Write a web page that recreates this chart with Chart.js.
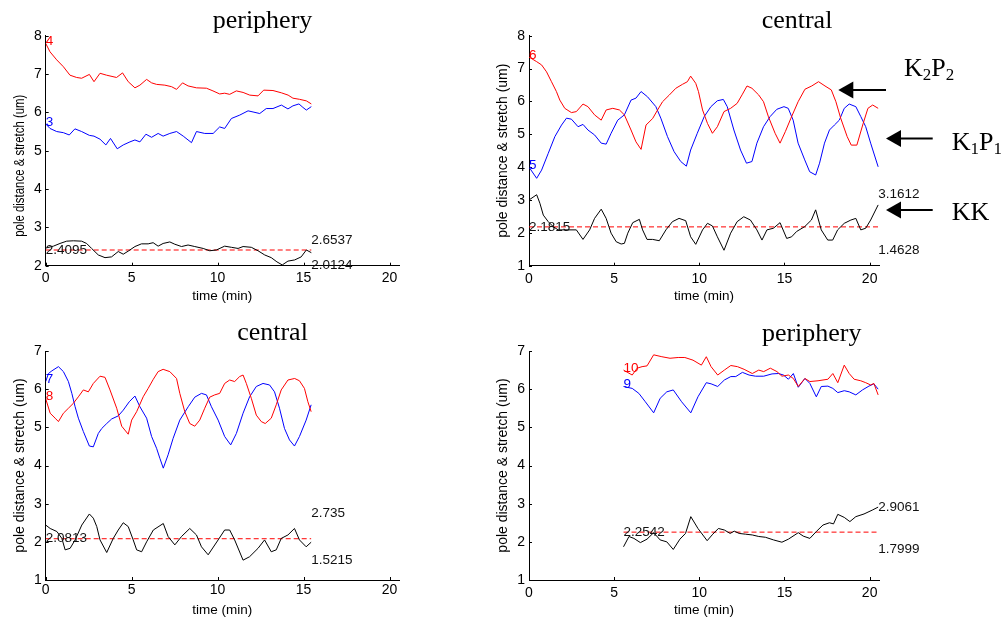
<!DOCTYPE html>
<html><head><meta charset="utf-8">
<script src="https://cdn.jsdelivr.net/npm/chart.js@4.4.1/dist/chart.umd.min.js"></script>
<style>
html,body{margin:0;padding:0;background:#fff;}
body{width:1008px;height:621px;position:relative;overflow:hidden;}
canvas{position:absolute;}
.ttl{position:absolute;font-family:"Liberation Serif","Times New Roman",serif;font-size:26px;line-height:26px;white-space:nowrap;color:#000;transform:translateX(-50%);}
.ann{position:absolute;font-family:"Liberation Serif","Times New Roman",serif;font-size:26px;line-height:26px;white-space:nowrap;color:#000;}
.ann sub{font-size:17px;vertical-align:-4px;line-height:0;}
svg{position:absolute;left:0;top:0;}
</style></head>
<body>
<canvas id="c1" width="480" height="310" style="left:0;top:0"></canvas>
<canvas id="c2" width="528" height="310" style="left:480px;top:0"></canvas>
<canvas id="c3" width="480" height="311" style="left:0;top:310px"></canvas>
<canvas id="c4" width="528" height="311" style="left:480px;top:310px"></canvas>

<div class="ttl" style="left:262.5px;top:7px">periphery</div>
<div class="ttl" style="left:797px;top:6.5px">central</div>
<div class="ttl" style="left:272.5px;top:319px">central</div>
<div class="ttl" style="left:811.7px;top:320px">periphery</div>

<div class="ann" style="left:904px;top:55px">K<sub>2</sub>P<sub>2</sub></div>
<div class="ann" style="left:951.7px;top:129px">K<sub>1</sub>P<sub>1</sub></div>
<div class="ann" style="left:951.7px;top:199px">KK</div>

<svg width="1008" height="621">
  <line x1="852" y1="90" x2="886" y2="90" stroke="#000" stroke-width="2"/>
  <polygon points="838.3,90 853.3,81.5 853.3,98.5" fill="#000"/>
  <line x1="899" y1="138.5" x2="932.7" y2="138.5" stroke="#000" stroke-width="2"/>
  <polygon points="886,138.5 901,130 901,147" fill="#000"/>
  <line x1="899" y1="210" x2="932.7" y2="210" stroke="#000" stroke-width="2"/>
  <polygon points="886,210 901,201.5 901,218.5" fill="#000"/>
</svg>

<script>
// ---------- axes ----------
const xTicks = [0, 5, 10, 15, 20];
const xMax = 20.55;
const yTicksTop1 = [2, 3, 4, 5, 6, 7, 8];
const yTicksTop2 = [1, 2, 3, 4, 5, 6, 7, 8];
const yTicksBottom = [1, 2, 3, 4, 5, 6, 7];

// ---------- panel 1 (periphery, top-left) ----------
const p1Names = ['4', '3'];
const p1Stats = [2.4095, 2.6537, 2.0124]; // mean, max, min
const p1K2P2 = [[0,7.8],[0.25,7.58],[0.64,7.37],[1.03,7.19],[1.41,6.97],[1.8,6.91],[2.09,6.89],[2.54,6.99],[2.81,6.8],[3.16,7.02],[3.54,6.97],[4.12,6.91],[4.47,7.03],[4.8,6.8],[5.19,6.64],[5.48,6.71],[5.87,6.86],[6.16,6.77],[6.45,6.73],[6.93,6.71],[7.32,6.67],[7.61,6.6],[7.96,6.77],[8.28,6.69],[8.77,6.64],[9.35,6.63],[9.73,6.56],[10.12,6.48],[10.41,6.5],[10.7,6.47],[11.09,6.56],[11.48,6.52],[11.87,6.45],[12.35,6.43],[12.68,6.58],[13.22,6.57],[13.71,6.51],[14.1,6.45],[14.38,6.37],[14.77,6.34],[15.16,6.3],[15.45,6.22]];
const p1K1P1 = [[0,5.7],[0.25,5.58],[0.64,5.5],[1.03,5.47],[1.37,5.41],[1.7,5.57],[2.09,5.5],[2.54,5.4],[2.81,5.38],[3.16,5.3],[3.5,5.15],[3.77,5.32],[4.16,5.05],[4.51,5.15],[4.9,5.23],[5.19,5.28],[5.48,5.23],[5.83,5.43],[6.16,5.35],[6.54,5.45],[6.83,5.38],[7.22,5.45],[7.61,5.5],[8.0,5.38],[8.48,5.21],[8.77,5.5],[9.25,5.45],[9.74,5.45],[10.12,5.62],[10.41,5.58],[10.8,5.84],[11.29,5.93],[11.77,6.04],[12.06,6.01],[12.45,5.97],[12.83,6.1],[13.22,6.1],[13.71,6.19],[14.09,6.09],[14.38,6.17],[14.73,6.22],[14.96,6.13],[15.16,6.06],[15.45,6.15]];
const p1KK = [[0,2.46],[0.45,2.51],[0.83,2.58],[1.22,2.64],[1.61,2.65],[2.09,2.64],[2.38,2.58],[2.67,2.45],[3.06,2.28],[3.45,2.21],[3.83,2.23],[4.22,2.37],[4.51,2.3],[4.8,2.38],[5.19,2.5],[5.57,2.57],[5.96,2.57],[6.25,2.6],[6.54,2.51],[6.83,2.58],[7.22,2.62],[7.51,2.56],[7.9,2.5],[8.28,2.54],[8.67,2.5],[9.16,2.45],[9.54,2.39],[9.93,2.41],[10.41,2.51],[10.8,2.48],[11.19,2.45],[11.48,2.5],[11.96,2.48],[12.35,2.39],[12.74,2.28],[13.12,2.21],[13.45,2.1],[13.76,2.02],[14.09,2.12],[14.48,2.15],[14.86,2.23],[15.16,2.41],[15.45,2.34]];

// ---------- panel 2 (central, top-right) ----------
const p2Names = ['6', '5'];
const p2Stats = [2.1815, 3.1612, 1.4628];
const p2K2P2 = [[0,7.35],[0.45,7.21],[0.74,7.11],[1.03,6.9],[1.32,6.6],[1.61,6.3],[1.81,6.04],[2.1,5.79],[2.49,5.66],[2.78,5.69],[3.17,5.92],[3.46,5.84],[3.85,5.59],[4.24,5.43],[4.53,5.74],[4.92,5.79],[5.31,5.74],[5.6,5.59],[5.99,5.13],[6.28,4.77],[6.58,4.54],[6.87,5.28],[7.26,5.48],[7.55,5.74],[7.84,5.99],[8.23,6.19],[8.62,6.4],[9.01,6.52],[9.3,6.6],[9.49,6.77],[9.79,6.55],[9.95,6.3],[10.19,5.74],[10.48,5.33],[10.77,5.03],[11.06,5.23],[11.45,5.69],[11.84,5.79],[12.22,5.94],[12.51,6.2],[12.8,6.47],[13.09,6.4],[13.48,6.2],[13.77,5.99],[14.06,5.53],[14.45,5.03],[14.74,4.73],[15.05,5.08],[15.38,5.49],[15.8,5.99],[16.2,6.37],[16.6,6.47],[17.0,6.6],[17.38,6.47],[17.75,6.35],[18.02,5.99],[18.3,5.49],[18.68,4.93],[18.92,4.67],[19.25,4.67],[19.62,5.33],[19.9,5.79],[20.18,5.89],[20.5,5.79]];
const p2K1P1 = [[0,4.0],[0.45,3.66],[0.74,3.91],[1.13,4.42],[1.52,4.93],[1.91,5.28],[2.2,5.49],[2.49,5.46],[2.88,5.23],[3.17,5.3],[3.46,5.13],[3.85,4.98],[4.24,4.73],[4.53,4.7],[4.82,5.03],[5.21,5.43],[5.6,5.59],[5.99,6.04],[6.28,6.1],[6.58,6.3],[6.96,6.14],[7.45,5.84],[7.74,5.49],[8.13,4.93],[8.52,4.47],[8.91,4.17],[9.24,4.03],[9.49,4.52],[9.88,5.03],[10.29,5.54],[10.68,5.84],[11.06,6.02],[11.41,6.06],[11.64,5.84],[12.03,5.13],[12.42,4.52],[12.77,4.12],[13.09,4.17],[13.38,4.73],[13.77,5.23],[14.16,5.54],[14.55,5.76],[14.97,5.84],[15.22,5.79],[15.51,5.43],[15.8,4.73],[16.19,4.22],[16.48,3.86],[16.83,3.76],[17.06,4.12],[17.35,4.73],[17.64,5.13],[17.93,5.28],[18.22,5.43],[18.51,5.79],[18.8,5.92],[19.19,5.84],[19.48,5.54],[19.77,5.23],[20.06,4.73],[20.5,4.01]];
const p2KK = [[0,3.0],[0.45,3.16],[0.64,2.9],[0.84,2.54],[1.13,2.34],[1.42,2.19],[1.71,2.09],[2.3,2.09],[2.78,2.09],[3.17,1.8],[3.56,2.09],[3.85,2.44],[4.24,2.72],[4.53,2.44],[4.82,1.99],[5.12,1.73],[5.41,1.66],[5.6,1.68],[5.8,1.99],[6.09,2.31],[6.48,2.41],[6.67,2.09],[6.93,1.8],[7.26,1.8],[7.65,1.76],[8.04,2.09],[8.42,2.34],[8.81,2.44],[9.2,2.37],[9.49,1.88],[9.79,1.65],[10.19,2.09],[10.48,2.29],[10.77,2.21],[11.06,1.88],[11.45,1.47],[11.84,1.99],[12.22,2.34],[12.61,2.49],[13.0,2.39],[13.38,2.09],[13.68,1.78],[13.97,2.09],[14.35,2.14],[14.74,2.31],[15.13,1.83],[15.42,1.88],[15.71,2.04],[16.19,2.19],[16.58,2.39],[16.83,2.7],[17.16,2.09],[17.54,1.78],[17.83,1.78],[18.12,2.09],[18.51,2.29],[18.9,2.39],[19.19,2.44],[19.48,2.09],[19.77,2.14],[20.06,2.39],[20.5,2.85]];

// ---------- panel 3 (central, bottom-left) ----------
const p3Names = ['8', '7'];
const p3Stats = [2.0813, 2.735, 1.5215];
const p3K2P2 = [[0,5.75],[0.26,5.37],[0.55,5.24],[0.74,5.15],[1.03,5.37],[1.32,5.5],[1.61,5.63],[1.9,5.8],[2.19,5.98],[2.48,5.93],[2.77,6.15],[3.16,6.34],[3.45,6.31],[3.74,5.98],[4.13,5.5],[4.42,5.03],[4.8,4.82],[5.0,5.19],[5.29,5.41],[5.67,5.8],[5.96,6.02],[6.26,6.26],[6.54,6.46],[6.83,6.52],[7.22,6.46],[7.61,6.28],[7.8,5.89],[8.09,5.41],[8.38,5.1],[8.67,5.03],[8.96,5.19],[9.25,5.5],[9.54,5.79],[9.83,5.85],[10.12,5.89],[10.41,6.15],[10.7,6.24],[10.99,6.2],[11.28,6.33],[11.48,6.37],[11.67,6.15],[11.96,5.76],[12.25,5.32],[12.54,5.15],[12.77,5.1],[13.12,5.24],[13.41,5.59],[13.7,5.98],[14.09,6.24],[14.48,6.28],[14.76,6.22],[15.05,6.02],[15.25,5.67],[15.44,5.41]];
const p3K1P1 = [[0,6.2],[0.16,6.41],[0.36,6.48],[0.74,6.59],[1.03,6.46],[1.32,6.2],[1.52,5.89],[1.71,5.54],[1.9,5.24],[2.19,4.89],[2.54,4.51],[2.77,4.49],[3.06,4.84],[3.26,4.97],[3.55,5.1],[3.84,5.22],[4.22,5.3],[4.51,5.45],[4.86,5.67],[5.19,5.82],[5.48,5.54],[5.87,5.24],[6.16,4.76],[6.45,4.45],[6.64,4.19],[6.84,3.93],[7.12,4.28],[7.41,4.71],[7.8,5.19],[8.29,5.54],[8.67,5.79],[9.06,5.89],[9.35,5.85],[9.64,5.54],[10.03,5.19],[10.41,4.76],[10.76,4.54],[11.09,4.84],[11.48,5.37],[11.86,5.8],[12.25,6.07],[12.64,6.15],[13.02,6.11],[13.31,5.93],[13.6,5.5],[13.89,4.97],[14.18,4.67],[14.47,4.51],[14.76,4.76],[15.15,5.19],[15.44,5.59]];
const p3KK = [[0,2.44],[0.26,2.35],[0.65,2.27],[0.94,2.09],[1.13,1.79],[1.42,1.83],[1.71,2.05],[2.1,2.44],[2.54,2.73],[2.77,2.62],[2.97,2.4],[3.16,2.05],[3.55,1.72],[3.93,2.09],[4.22,2.31],[4.51,2.5],[4.8,2.4],[5.09,2.05],[5.29,1.79],[5.58,1.74],[5.87,2.0],[6.26,2.31],[6.84,2.48],[7.12,2.14],[7.51,1.92],[7.9,2.14],[8.38,2.35],[8.77,2.18],[9.06,1.87],[9.45,1.66],[10.03,2.05],[10.41,2.31],[10.7,2.31],[10.99,2.05],[11.48,1.52],[11.86,1.61],[12.35,1.83],[12.73,2.05],[13.12,1.74],[13.41,1.79],[13.7,2.09],[14.09,2.18],[14.47,2.35],[14.76,2.05],[15.15,1.87],[15.44,1.99]];

// ---------- panel 4 (periphery, bottom-right) ----------
const p4Names = ['10', '9'];
const p4Stats = [2.2542, 2.9061, 1.7999];
const p4K2P2 = [[5.55,6.5],[6.06,6.37],[6.35,6.55],[6.64,6.59],[6.93,6.61],[7.32,6.9],[7.8,6.85],[8.28,6.81],[8.76,6.83],[9.15,6.83],[9.63,6.76],[10.12,6.63],[10.41,6.85],[10.69,6.59],[11.08,6.37],[11.47,6.5],[11.85,6.62],[12.24,6.59],[12.63,6.52],[13.11,6.41],[13.49,6.5],[13.78,6.46],[14.17,6.55],[14.56,6.46],[14.85,6.34],[15.23,6.37],[15.52,6.28],[15.81,6.07],[16.2,6.28],[16.49,6.2],[16.97,6.22],[17.55,6.26],[17.84,6.41],[18.13,6.17],[18.51,6.63],[18.8,6.41],[19.09,6.26],[19.48,6.22],[19.77,6.17],[20.06,6.11],[20.25,6.15],[20.5,5.85]];
const p4K1P1 = [[5.55,6.07],[6.06,6.02],[6.45,5.89],[6.83,5.67],[7.32,5.38],[7.7,5.76],[8.09,5.93],[8.47,5.98],[8.96,5.67],[9.5,5.38],[9.92,5.8],[10.41,6.17],[10.69,6.14],[11.08,6.07],[11.47,6.24],[11.85,6.33],[12.14,6.33],[12.53,6.44],[12.92,6.37],[13.3,6.34],[13.78,6.34],[14.27,6.4],[14.65,6.41],[14.94,6.37],[15.23,6.26],[15.52,6.41],[15.81,6.05],[16.2,6.28],[16.49,6.15],[16.87,5.8],[17.16,6.07],[17.55,6.08],[17.84,6.02],[18.13,5.91],[18.51,5.96],[18.8,5.93],[19.19,5.85],[19.58,5.98],[19.96,6.08],[20.25,6.14],[20.5,6.0]];
const p4KK = [[5.55,1.87],[5.87,2.14],[6.16,2.09],[6.54,1.98],[6.93,2.07],[7.32,2.24],[7.7,2.05],[8.09,2.0],[8.47,1.8],[8.86,2.07],[9.19,2.22],[9.5,2.66],[9.92,2.35],[10.46,2.03],[10.79,2.2],[11.12,2.35],[11.47,2.31],[11.81,2.22],[12.05,2.28],[12.34,2.22],[12.72,2.2],[13.11,2.18],[13.49,2.14],[13.88,2.12],[14.36,2.05],[14.85,1.99],[15.23,2.07],[15.81,2.24],[16.1,2.15],[16.49,2.09],[16.87,2.27],[17.26,2.44],[17.64,2.5],[17.88,2.47],[18.13,2.72],[18.51,2.64],[18.84,2.53],[19.19,2.66],[19.67,2.73],[20.15,2.83],[20.5,2.91]];

// ---------- drawing ----------
const SANS = '"Liberation Sans", Arial, Helvetica, sans-serif';
const toXY = a => a.map(p => ({x: p[0], y: p[1]}));

function makePanel(id, d, lay) {
  const red = d.red, blue = d.blue, black = d.black;
  const t0 = black[0][0], t1 = black[black.length - 1][0];
  const mean = d.stats[0], max = d.stats[1], min = d.stats[2];

  const annot = {
    id: 'annot_' + id,
    afterDatasetsDraw(chart) {
      const ctx = chart.ctx, xs = chart.scales.x, ys = chart.scales.y, ca = chart.chartArea;
      ctx.save();
      // inward tick marks
      ctx.strokeStyle = '#000'; ctx.lineWidth = 1;
      xs.ticks.forEach(tk => {
        const px = Math.round(xs.getPixelForValue(tk.value)) + 0.5;
        ctx.beginPath(); ctx.moveTo(px, ca.bottom); ctx.lineTo(px, ca.bottom - 3); ctx.stroke();
      });
      ys.ticks.forEach(tk => {
        const py = Math.round(ys.getPixelForValue(tk.value)) + 0.5;
        ctx.beginPath(); ctx.moveTo(ca.left, py); ctx.lineTo(ca.left + 3, py); ctx.stroke();
      });
      // texts
      ctx.font = '13.5px ' + SANS;
      ctx.textAlign = 'left'; ctx.textBaseline = 'middle';
      ctx.fillStyle = '#ff0000';
      ctx.fillText(d.names[0], xs.getPixelForValue(red[0][0]), ys.getPixelForValue(red[0][1]) - 2);
      ctx.fillStyle = '#0000ff';
      ctx.fillText(d.names[1], xs.getPixelForValue(blue[0][0]), ys.getPixelForValue(blue[0][1]) - 2);
      ctx.fillStyle = '#111';
      ctx.fillText(String(mean), xs.getPixelForValue(t0), ys.getPixelForValue(mean));
      ctx.fillText(String(max), xs.getPixelForValue(t1), ys.getPixelForValue(max));
      ctx.fillText(String(min), xs.getPixelForValue(t1), ys.getPixelForValue(min));
      // y axis title
      ctx.fillStyle = '#000';
      ctx.translate(lay.ytx, (ca.top + ca.bottom) / 2 + lay.yty);
      ctx.rotate(-Math.PI / 2);
      ctx.scale(lay.ytsx, 1);
      ctx.font = '14px ' + SANS;
      ctx.textAlign = 'center';
      ctx.fillText('pole distance & stretch (um)', 0, 0);
      ctx.restore();
    }
  };

  return new Chart(document.getElementById(id), {
    type: 'line',
    data: {
      datasets: [
        {data: toXY(red), borderColor: '#ff0000'},
        {data: toXY(blue), borderColor: '#0000ff'},
        {data: toXY(black), borderColor: '#000000'},
        {data: [{x: t0, y: mean}, {x: t1, y: mean}], borderColor: '#ff0000', borderDash: [5, 3]}
      ]
    },
    options: {
      responsive: false, animation: false, devicePixelRatio: 1,
      layout: {padding: {left: 0, top: lay.top, right: lay.right, bottom: 0}},
      elements: {point: {radius: 0}, line: {borderWidth: 1, tension: 0, fill: false}},
      plugins: {legend: {display: false}, tooltip: {enabled: false}, title: {display: false}},
      scales: {
        x: {
          type: 'linear', min: 0, max: xMax,
          afterFit: s => { s.height = lay.xh; },
          afterBuildTicks: s => { s.ticks = xTicks.map(v => ({value: v})); },
          grid: {display: false, drawTicks: false},
          border: {display: true, color: '#000', width: 1},
          ticks: {color: '#000', font: {family: SANS, size: 14}, padding: lay.xtp, maxRotation: 0},
          title: {display: true, text: 'time (min)', color: '#000', font: {family: SANS, size: 13.5}, padding: {top: 0, bottom: lay.xtitle}}
        },
        y: {
          type: 'linear', min: d.yTicks[0], max: d.yTicks[d.yTicks.length - 1],
          afterFit: s => { s.width = lay.yw; },
          afterBuildTicks: s => { s.ticks = d.yTicks.map(v => ({value: v})); },
          grid: {display: false, drawTicks: false},
          border: {display: true, color: '#000', width: 1},
          ticks: {color: '#000', font: {family: SANS, size: 14}, padding: 4}
        }
      }
    },
    plugins: [annot]
  });
}

makePanel('c1', {red: p1K2P2, blue: p1K1P1, black: p1KK, stats: p1Stats, names: p1Names, yTicks: yTicksTop1},
  {top: 35.7, right: 81, xh: 44.3, yw: 45.7, xtp: 4, xtitle: 6, ytx: 20, yty: 15, ytsx: 0.816});
makePanel('c2', {red: p2K2P2, blue: p2K1P1, black: p2KK, stats: p2Stats, names: p2Names, yTicks: yTicksTop2},
  {top: 35.7, right: 129, xh: 44.3, yw: 49, xtp: 5, xtitle: 6, ytx: 23, yty: 0, ytsx: 1});
makePanel('c3', {red: p3K2P2, blue: p3K1P1, black: p3KK, stats: p3Stats, names: p3Names, yTicks: yTicksBottom},
  {top: 41, right: 81, xh: 41, yw: 45.7, xtp: 2, xtitle: 3, ytx: 20, yty: 0, ytsx: 1});
makePanel('c4', {red: p4K2P2, blue: p4K1P1, black: p4KK, stats: p4Stats, names: p4Names, yTicks: yTicksBottom},
  {top: 41, right: 129, xh: 41, yw: 49, xtp: 5, xtitle: 3, ytx: 23, yty: 0, ytsx: 1});
</script>
</body></html>
